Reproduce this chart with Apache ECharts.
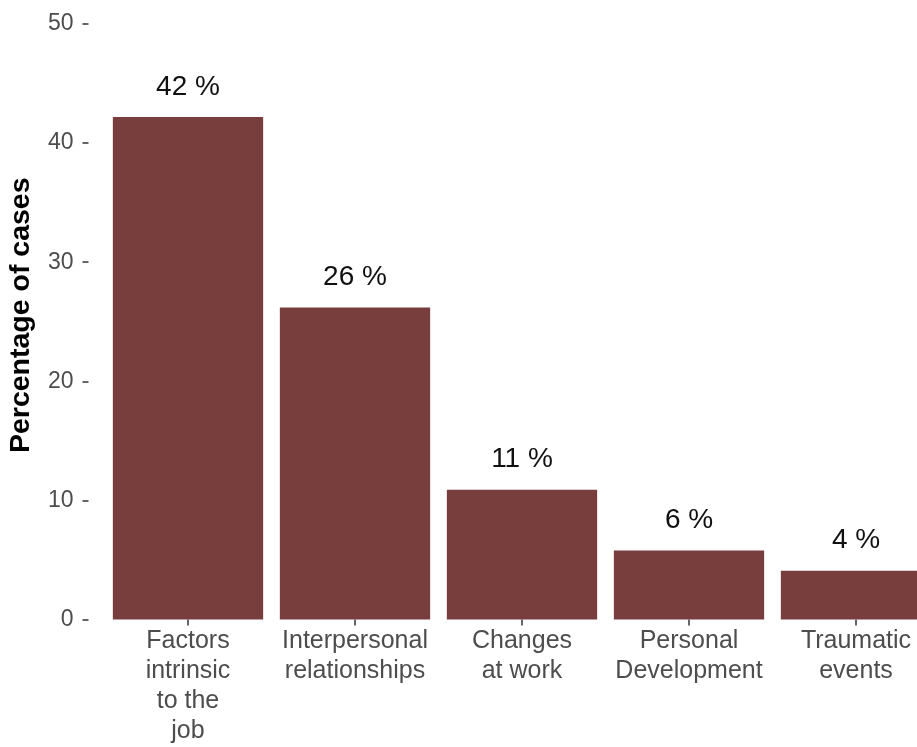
<!DOCTYPE html>
<html>
<head>
<meta charset="utf-8">
<title>Percentage of cases</title>
<script src="https://cdn.jsdelivr.net/npm/echarts@6/dist/echarts.min.js"></script>
<style>
  html, body { margin: 0; padding: 0; background: #fff; overflow: hidden; }
  #main { width: 917px; height: 747px; }
</style>
</head>
<body>
<div id="main"></div>
<script>
// categories and values
var categories = [
  'Factors\nintrinsic\nto the\njob',
  'Interpersonal\nrelationships',
  'Changes\nat work',
  'Personal\nDevelopment',
  'Traumatic\nevents'
];
var percentages = [42.2, 26.2, 10.9, 5.8, 4.1];
var yTicks = [0, 10, 20, 30, 40, 50];

var fontFamily = '"Liberation Sans", Arial, sans-serif';

var chart = echarts.init(document.getElementById('main'), null, { renderer: 'canvas' });

chart.setOption({
  animation: false,
  // grid runs past the right edge, the last bar is cut like in the picture
  grid: {
    left: 104.5,
    top: 24,
    width: 835,
    height: 595.5,
    containLabel: false,
    outerBoundsMode: 'none'
  },
  xAxis: {
    type: 'category',
    data: categories,
    axisLine: { show: false },
    axisTick: {
      show: true,
      alignWithLabel: true,
      length: 6,
      lineStyle: { color: '#333', width: 1.5 }
    },
    axisLabel: {
      interval: 0,
      hideOverlap: false,
      margin: 7,
      color: '#4D4D4D',
      fontFamily: fontFamily,
      fontSize: 25,
      lineHeight: 30,
      align: 'center'
    }
  },
  yAxis: {
    type: 'value',
    min: yTicks[0],
    max: yTicks[yTicks.length - 1],
    interval: 10,
    offset: 16,
    name: 'Percentage of cases',
    nameLocation: 'middle',
    nameGap: 53,
    nameTextStyle: {
      color: '#000',
      fontFamily: fontFamily,
      fontSize: 28.5,
      fontWeight: 'bold',
      padding: [0, 0, 0, 13]
    },
    axisLine: { show: false },
    axisTick: {
      show: true,
      length: 6,
      lineStyle: { color: '#333', width: 1.5 }
    },
    splitLine: { show: false },
    axisLabel: {
      margin: 15,
      color: '#4D4D4D',
      fontFamily: fontFamily,
      fontSize: 23
    }
  },
  series: [
    {
      type: 'bar',
      data: percentages,
      barWidth: '90%',
      itemStyle: { color: '#783D3D' },
      label: {
        show: true,
        position: 'top',
        distance: 16,
        color: '#111',
        fontFamily: fontFamily,
        fontSize: 28,
        lineHeight: 28,
        formatter: function (p) {
          return Math.round(p.value) + ' %';
        }
      }
    }
  ]
});
</script>
</body>
</html>
